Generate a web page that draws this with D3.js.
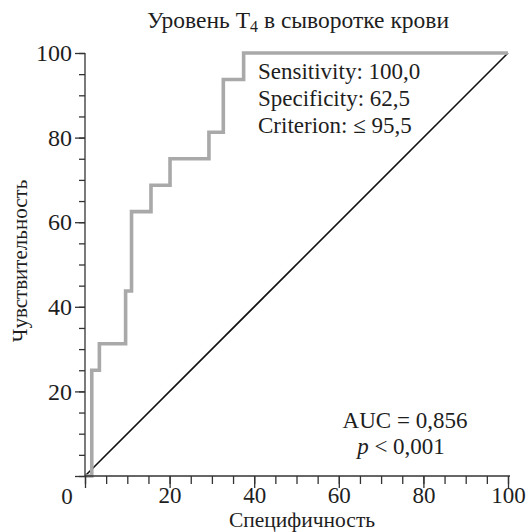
<!DOCTYPE html>
<html>
<head>
<meta charset="utf-8">
<script src="https://cdn.jsdelivr.net/npm/d3@7"></script>
<style>
  body { margin: 0; background: #fff; }
  text { font-family: "Liberation Serif", "Times New Roman", serif; fill: #1e1e1e; }
</style>
</head>
<body>
<div id="chart"></div>
<script>
// ROC step points: 100 - specificity (x) and sensitivity (y)
var fprValues = [0, 1.6, 3.4, 9.6, 11.0, 15.6, 20.1, 29.3, 32.7, 37.5, 100];
var sensValues = [0, 25, 31.25, 43.75, 62.5, 68.75, 75, 81.25, 93.75, 100, 100];
var majorTicks = [0, 20, 40, 60, 80, 100];
var minorTicks = d3.range(0, 101, 5);
var statLines = ["Sensitivity: 100,0", "Specificity: 62,5", "Criterion: \u2264 95,5"];

var W = 528, H = 532;
var margin = { top: 53, left: 85, right: 20, bottom: 56 };
var size = 423;

var svg = d3.select("#chart")
    .append("svg")
    .attr("width", W)
    .attr("height", H);

var x = d3.scaleLinear().domain([0, 100]).range([margin.left, margin.left + size]);
var y = d3.scaleLinear().domain([0, 100]).range([margin.top + size, margin.top]);

// diagonal reference line
svg.append("line")
    .attr("x1", x(0)).attr("y1", y(0))
    .attr("x2", x(100)).attr("y2", y(100))
    .attr("stroke", "#111")
    .attr("stroke-width", 1.6);

// ROC curve
var line = d3.line()
    .x(function (d) { return x(d[0]) })
    .y(function (d) { return y(d[1]) })
    .curve(d3.curveStepAfter);

svg.append("path")
    .datum(fprValues.map(function (v, i) { return [v, sensValues[i]]; }))
    .attr("d", line)
    .attr("fill", "none")
    .attr("stroke", "#a9a9a9")
    .attr("stroke-width", 3.6);

// axes
var xAxisMinor = d3.axisBottom(x).tickValues(minorTicks).tickSize(8).tickFormat("");
var xAxisMajor = d3.axisBottom(x).tickValues(majorTicks).tickSize(12).tickPadding(-1)
    .tickFormat(function (d) { return d === 0 ? "" : d; });
var yAxisMinor = d3.axisLeft(y).tickValues(minorTicks).tickSize(6).tickFormat("");
var yAxisMajor = d3.axisLeft(y).tickValues(majorTicks).tickSize(10).tickPadding(3)
    .tickFormat(function (d) { return d === 0 ? "" : d; });

function styleAxis(g, fontSize) {
    g.select(".domain").remove();
    g.selectAll("line").attr("stroke", "#333").attr("stroke-width", 1.3);
    g.selectAll("text")
        .style("font-family", "'Liberation Serif', serif")
        .style("font-size", fontSize + "px")
        .attr("fill", "#1e1e1e");
}

svg.append("g").attr("transform", "translate(0," + y(0) + ")").call(xAxisMinor).call(styleAxis, 22);
svg.append("g").attr("transform", "translate(0," + y(0) + ")").call(xAxisMajor).call(styleAxis, 23);
svg.append("g").attr("transform", "translate(" + x(0) + ",0)").call(yAxisMinor).call(styleAxis, 24);
svg.append("g").attr("transform", "translate(" + x(0) + ",0)").call(yAxisMajor).call(styleAxis, 24);

// axis lines
svg.append("line")
    .attr("x1", x(0)).attr("y1", y(0)).attr("x2", x(100) + 2).attr("y2", y(0))
    .attr("stroke", "#333").attr("stroke-width", 1.3);
svg.append("line")
    .attr("x1", x(0)).attr("y1", y(0)).attr("x2", x(0)).attr("y2", y(100))
    .attr("stroke", "#333").attr("stroke-width", 1.3);

// shared origin label
svg.append("text")
    .attr("x", 67).attr("y", y(0) + 28)
    .attr("text-anchor", "middle")
    .style("font-size", "23px")
    .text("0");

// title with subscript
var title = svg.append("text")
    .attr("x", 298).attr("y", 28)
    .attr("text-anchor", "middle")
    .style("font-size", "23.5px");
title.append("tspan").text("Уровень T");
title.append("tspan").attr("baseline-shift", "-25%").style("font-size", "16px").text("4");
title.append("tspan").text(" в сыворотке крови");

// axis titles
svg.append("text")
    .attr("x", 302).attr("y", 527)
    .attr("text-anchor", "middle")
    .style("font-size", "21.5px")
    .text("Специфичность");

svg.append("text")
    .attr("transform", "translate(27," + 261 + ") rotate(-90)")
    .attr("text-anchor", "middle")
    .style("font-size", "21px")
    .text("Чувствительность");

// criterion stats
svg.selectAll(".stat")
    .data(statLines)
    .enter()
    .append("text")
    .attr("class", "stat")
    .attr("x", 258)
    .attr("y", function (d, i) { return 79 + i * 27; })
    .style("font-size", "23px")
    .text(function (d) { return d; });

// AUC
svg.append("text")
    .attr("x", 405).attr("y", 428)
    .attr("text-anchor", "middle")
    .style("font-size", "23px")
    .text("AUC = 0,856");

var pText = svg.append("text")
    .attr("x", 401).attr("y", 454)
    .attr("text-anchor", "middle")
    .style("font-size", "23px");
pText.append("tspan").style("font-style", "italic").text("p");
pText.append("tspan").text(" < 0,001");
</script>
</body>
</html>
